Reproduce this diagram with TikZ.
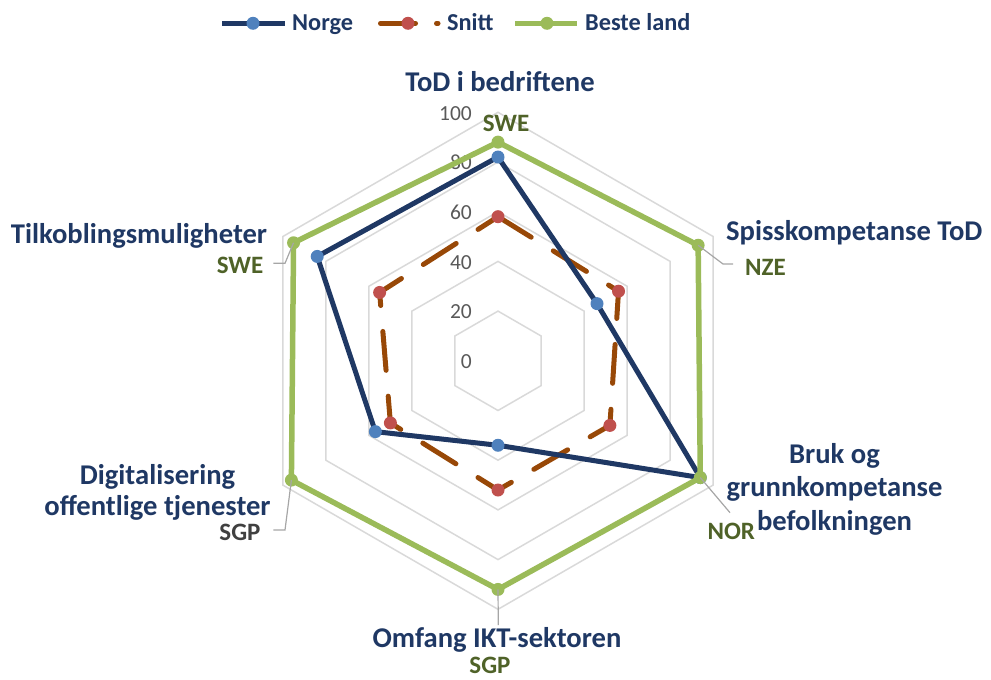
\documentclass[tikz,border=0pt]{standalone}
\usepackage{fontspec}
\setmainfont{Carlito}
\definecolor{norgeblue}{HTML}{1F3864}
\definecolor{norgedot}{HTML}{4F81BD}
\definecolor{snittbrown}{HTML}{984807}
\definecolor{snittdot}{HTML}{C0504D}
\definecolor{bestegreen}{HTML}{9BBB59}
\definecolor{landgreen}{HTML}{4F6228}
\definecolor{landgrey}{HTML}{404040}
\definecolor{axisgrey}{HTML}{D9D9D9}
\definecolor{leadgrey}{HTML}{A6A6A6}
\definecolor{ticktext}{HTML}{595959}
\definecolor{cattext}{HTML}{1F3864}
\tikzset{
  gridline/.style={draw=axisgrey, line width=1.5pt},
  norgeline/.style={draw=norgeblue, line width=5pt, line join=round},
  snittline/.style={draw=snittbrown, line width=5pt, line cap=round, dash pattern=on 39pt off 26pt},
  besteline/.style={draw=bestegreen, line width=5.5pt, line join=round},
  leader/.style={draw=leadgrey, line width=1.2pt},
  catlabel/.style={font=\fontsize{28.6}{33.3}\selectfont\bfseries, text=cattext, inner sep=0pt, anchor=base, align=center},
  landlabel/.style={font=\fontsize{25}{30}\selectfont\bfseries, text=landgreen, inner sep=0pt, anchor=base},
  ticklabel/.style={font=\fontsize{21.5}{26}\selectfont, text=ticktext, inner sep=0pt, anchor=base east},
  legendtext/.style={font=\fontsize{24.3}{30}\selectfont\bfseries, text=cattext, inner sep=0pt, anchor=base west},
}
\begin{document}
\begin{tikzpicture}[x=1pt, y=-1pt]
    \useasboundingbox (0,0) rectangle (991,680);

    % legend
    \draw[norgeline] (222,23.3) -- (285,23.3);
    \fill[norgedot] (253,23.3) circle [radius=6.5pt];
    \node[legendtext] (lnorge) at (292,30) {Norge};
    \draw[snittline, dash pattern=on 35pt off 21pt] (380.5,23.3) -- (438,23.3);
    \fill[snittdot] (408,23.3) circle [radius=6.5pt];
    \node[legendtext] (lsnitt) at (447,30) {Snitt};
    \draw[besteline] (515,23.3) -- (577,23.3);
    \fill[bestegreen] (547,23.3) circle [radius=6.5pt];
    \node[legendtext] (lbeste) at (585,30) {Beste land};

    \begin{scope}[shift={(498,360.8)}, x=2.485pt, y=-2.485pt]
        % grid
        \foreach \v in {20,40,60,80,100}
            \draw[gridline] (-90:\v) -- (-30:\v) -- (30:\v) -- (90:\v)
                -- (150:\v) -- (210:\v) -- cycle;
        \foreach \v in {0,20,40,60,80,100}
            \node[ticklabel, xshift=-26pt, yshift=-7.7pt] (tick\v) at (-90:\v) {\v};

        % data points
        \foreach \v [count=\k from 0] in {58,56,52,52,50,55}
            \coordinate (s\k) at (60*\k-90:\v);
        \foreach \v [count=\k from 0] in {82,46,94,34,57,84}
            \coordinate (n\k) at (60*\k-90:\v);
        \foreach \v [count=\k from 0] in {88,93,94,92,96,95}
            \coordinate (b\k) at (60*\k-90:\v);

        \draw[snittline] (s0) -- (s1) -- (s2) -- (s3) -- (s4) -- (s5) -- cycle;
        \foreach \k in {0,...,5}
            \fill[snittdot] (s\k) circle [radius=6.5pt];
        \draw[norgeline] (n0) -- (n1) -- (n2) -- (n3) -- (n4) -- (n5) -- cycle;
        \foreach \k in {0,...,5}
            \fill[norgedot] (n\k) circle [radius=6.5pt];
        \draw[besteline] (b0) -- (b1) -- (b2) -- (b3) -- (b4) -- (b5) -- cycle;
        \foreach \k in {0,...,5}
            \fill[bestegreen] (b\k) circle [radius=6.5pt];
    \end{scope}

    % axis names (multi-line ones sit on their last line)
    \node[catlabel] (tod) at (500,91.7) {ToD i bedriftene};
    \node[catlabel] (spiss) at (854.3,240) {Spisskompetanse ToD};
    \node[catlabel] (bruk) at (834.5,530) {Bruk og\\grunnkompetanse\\befolkningen};
    \node[catlabel, font=\fontsize{28.6}{30.5}\selectfont\bfseries] (digital) at (157.5,515) {Digitalisering\\offentlige tjenester};
    \node[catlabel] (omfang) at (497,647.3) {Omfang IKT-sektoren};
    \node[catlabel] (tilk) at (139,243.3) {Tilkoblingsmuligheter};

    % best country labels
    \node[landlabel] (swetop) at (506,131.7) {SWE};
    \node[landlabel] (nze) at (765.5,275) {NZE};
    \node[landlabel] (nor) at (731.3,539) {NOR};
    \node[landlabel] (sgpbot) at (490,673.3) {SGP};
    \node[landlabel, text=landgrey] (sgpleft) at (240,540) {SGP};
    \node[landlabel] (sweleft) at (240,273.3) {SWE};

    % leader lines
    \coordinate (nzebend) at (723,264);
    \coordinate (nzeend) at (733,264);
    \coordinate (norend) at (730,512.7);
    \coordinate (sgpbotend) at (498.3,625);
    \coordinate (sgpbend) at (285,530);
    \coordinate (sgpend) at (273.3,530);
    \coordinate (swebend) at (285,263.3);
    \coordinate (sweend) at (273.3,263.3);
    \draw[leader] (b1) -- (nzebend) -- (nzeend);
    \draw[leader] (b2) -- (norend);
    \draw[leader] (b3) -- (sgpbotend);
    \draw[leader] (b4) -- (sgpbend) -- (sgpend);
    \draw[leader] (b5) -- (swebend) -- (sweend);
\end{tikzpicture}
\end{document}
